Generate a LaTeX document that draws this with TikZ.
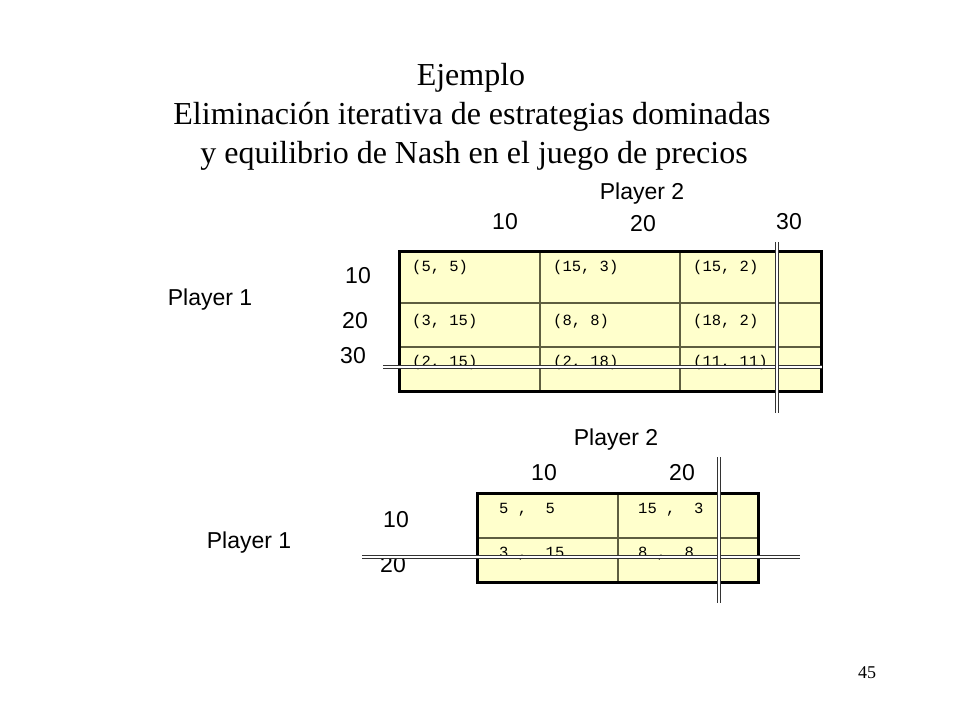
\documentclass[tikz,border=0pt]{standalone}
\usepackage{fontspec}
\setmainfont{Liberation Serif}
\newfontfamily\arialf{Liberation Sans}
\newfontfamily\monof{Liberation Mono}
\definecolor{cellfill}{HTML}{FFFFCC}
\definecolor{gridcol}{HTML}{5E5E40}
\tikzset{
  titletext/.style={anchor=base, inner sep=0pt, font=\fontsize{32}{38}\selectfont},
  lbl/.style={anchor=base, inner sep=0pt, font=\arialf\fontsize{23}{27}\selectfont},
  cell/.style={anchor=base west, inner sep=0pt, font=\monof\fontsize{15.5}{18}\selectfont},
  gridline/.style={draw=gridcol, line width=2pt},
  outerbox/.style={draw=black, line width=3pt},
  strike/.style={draw=black!80, line width=0.9pt, double=white, double distance=2pt},
  pagenum/.style={anchor=base, inner sep=0pt, font=\fontsize{18}{20}\selectfont}
}
\begin{document}
\begin{tikzpicture}[x=1pt, y=-1pt]
\useasboundingbox[fill=white] (0,0) rectangle (960,720);
% Title
\node[titletext] (t1) at (471,85) {Ejemplo};
\node[titletext] (t2) at (472,124) {Eliminación iterativa de estrategias dominadas};
\node[titletext] (t3) at (474,163) {y equilibrio de Nash en el juego de precios};

% ---------- Top table ----------
\fill[cellfill] (399,251) rectangle (821,391);
\draw[gridline] (540,251) -- (540,391);
\draw[gridline] (680,251) -- (680,391);
\draw[gridline] (399,303) -- (821,303);
\draw[gridline] (399,347) -- (821,347);

\node[cell] (a11) at (412,271) {(5, 5)};
\node[cell] (a12) at (553,271) {(15, 3)};
\node[cell] (a13) at (693,271) {(15, 2)};
\node[cell] (a21) at (412,325) {(3, 15)};
\node[cell] (a22) at (553,325) {(8, 8)};
\node[cell] (a23) at (693,325) {(18, 2)};
\node[cell] (a31) at (412,366) {(2, 15)};
\node[cell] (a32) at (553,366) {(2, 18)};
\node[cell] (a33) at (693,366) {(11, 11)};

\draw[outerbox] (399,251) rectangle (821,391);

\node[lbl] (p2a) at (642,199) {Player 2};
\node[lbl] (c1a) at (505,229) {10};
\node[lbl] (c2a) at (643,231) {20};
\node[lbl] (c3a) at (789,229) {30};
\node[lbl] (r1a) at (358,283) {10};
\node[lbl] (r2a) at (355,328) {20};
\node[lbl] (r3a) at (353,363) {30};
\node[lbl] (p1a) at (210,305) {Player 1};

\coordinate (hsA) at (383,367);
\coordinate (heA) at (822,367);
\coordinate (vsA) at (777,242);
\coordinate (veA) at (777,413);
\draw[strike] (hsA) -- (heA);
\draw[strike] (vsA) -- (veA);

% ---------- Bottom table ----------
\fill[cellfill] (477,493) rectangle (758,582);
\draw[gridline] (618,493) -- (618,582);
\draw[gridline] (477,538) -- (758,538);

\node[cell] (b11) at (499,513) {5~,~~5};
\node[cell] (b12) at (638,513) {15~,~~3};
\node[cell] (b21) at (499,557) {3~,~~15};
\node[cell] (b22) at (638,557) {8~,~~8};

\draw[outerbox] (477,493) rectangle (758,582);

\node[lbl] (p2b) at (616,445) {Player 2};
\node[lbl] (c1b) at (544,480) {10};
\node[lbl] (c2b) at (682,480) {20};
\node[lbl] (r1b) at (396,527) {10};
\node[lbl] (r2b) at (393,572) {20};
\node[lbl] (p1b) at (249,548) {Player 1};

\coordinate (hsB) at (362,557);
\coordinate (heB) at (800,557);
\coordinate (vsB) at (719,457);
\coordinate (veB) at (719,603);
\draw[strike] (hsB) -- (heB);
\draw[strike] (vsB) -- (veB);

\node[pagenum] (pn) at (867,678) {45};
\end{tikzpicture}
\end{document}
